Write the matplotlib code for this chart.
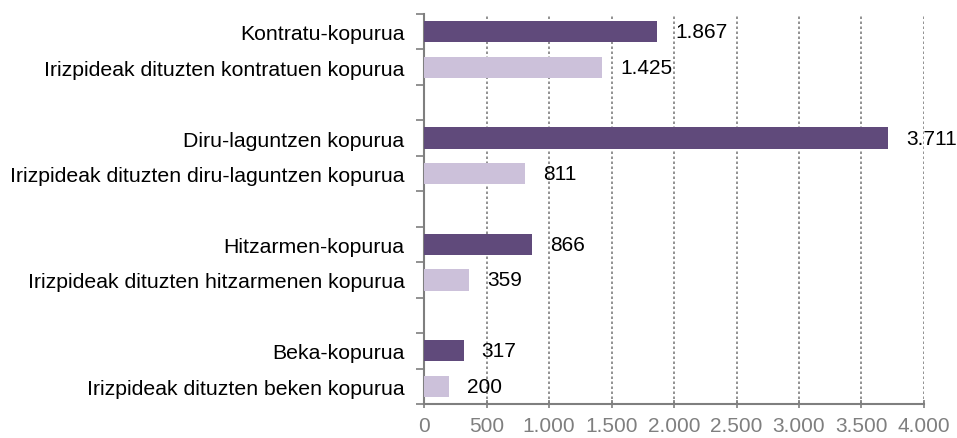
import matplotlib
matplotlib.use("Agg")
import matplotlib.pyplot as plt
from matplotlib.ticker import FixedLocator, NullFormatter

plt.rcParams['font.family'] = ['Liberation Sans', 'DejaVu Sans']

labels = [
    "Kontratu-kopurua",
    "Irizpideak dituzten kontratuen kopurua",
    "Diru-laguntzen kopurua",
    "Irizpideak dituzten diru-laguntzen kopurua",
    "Hitzarmen-kopurua",
    "Irizpideak dituzten hitzarmenen kopurua",
    "Beka-kopurua",
    "Irizpideak dituzten beken kopurua",
]
values = [1867, 1425, 3711, 811, 866, 359, 317, 200]
value_texts = ["1.867", "1.425", "3.711", "811", "866", "359", "317", "200"]
x_ticks = [0, 500, 1000, 1500, 2000, 2500, 3000, 3500, 4000]
x_tick_labels = ["0", "500", "1.000", "1.500", "2.000", "2.500", "3.000", "3.500", "4.000"]

dark = "#604A7B"
light = "#CCC1DA"
gray = "#7F7F7F"
FS = 15.3

fig = plt.figure(figsize=(9.57, 4.39), dpi=100)
ax = fig.add_axes([424/957, 1-405/439, 500/957, 390/439])

n_groups = 4
positions = []
for g in range(n_groups):
    positions += [g*3, g*3 + 1]
colors = [dark, light] * n_groups

ax.barh(positions, values, height=0.6, color=colors, zorder=3)
for p, v, t in zip(positions, values, value_texts):
    ax.annotate(t, (v, p), xytext=(18, 0), textcoords="offset pixels",
                va="center", ha="left", fontsize=15, color="black", zorder=4)

ax.set_xlim(0, 4000)
ax.set_ylim(10.5, -0.5)
ax.set_xticks(x_ticks)
ax.set_xticklabels(x_tick_labels, color=gray, fontsize=15)

ax.yaxis.set_major_locator(FixedLocator([i - 0.5 for i in range(12)]))
ax.yaxis.set_major_formatter(NullFormatter())
ax.yaxis.set_minor_locator(FixedLocator(positions))
ax.set_yticklabels(labels, minor=True, fontsize=FS, color="black")
ax.tick_params(axis="y", which="major", length=6, direction="out", color=gray, width=1.2)
ax.tick_params(axis="y", which="minor", length=0, pad=14)
ax.tick_params(axis="x", which="major", length=6, direction="inout", color=gray, width=1.2, pad=6)

ax.grid(axis="x", linestyle=(0, (1.5, 1.5)), color=gray, linewidth=1.2, zorder=0)
for s in ["top", "right"]:
    ax.spines[s].set_visible(False)
for s in ["left", "bottom"]:
    ax.spines[s].set_color(gray)
    ax.spines[s].set_linewidth(1.5)

fig.savefig("out.png", dpi=100)
